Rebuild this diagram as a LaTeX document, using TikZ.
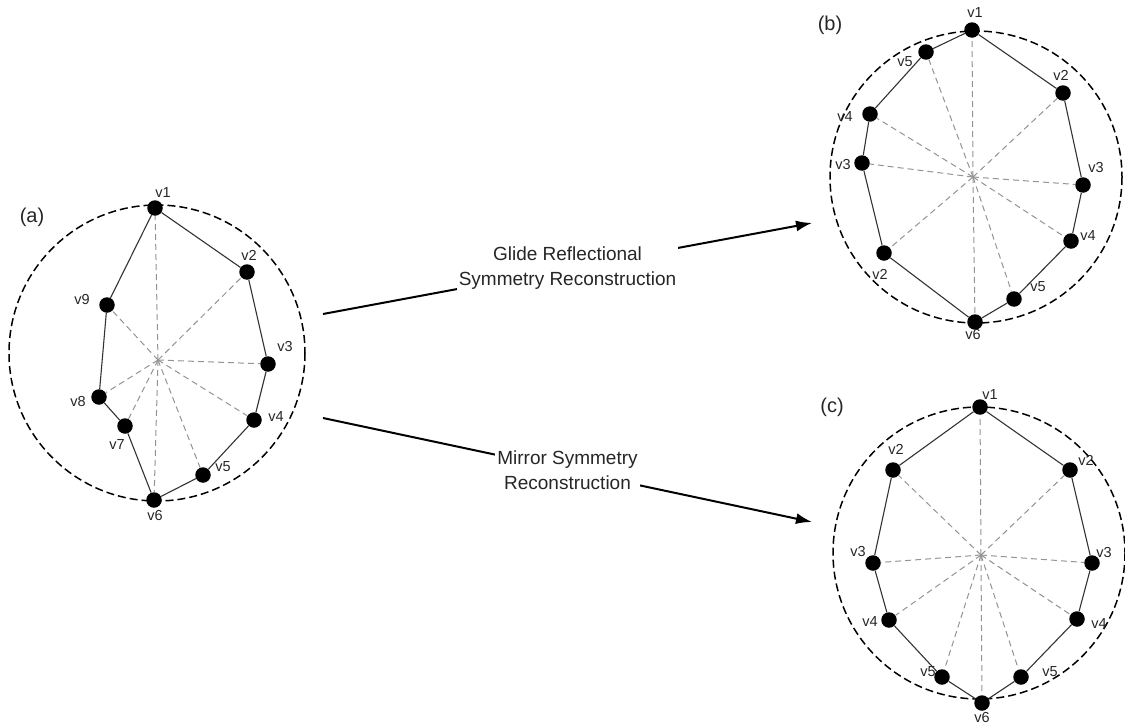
\documentclass[tikz,border=0pt]{standalone}
\usepackage{fontspec}
\setmainfont{Liberation Sans}
\usetikzlibrary{arrows.meta}

\begin{document}
\begin{tikzpicture}[x=1pt,y=-1pt]
  \tikzstyle{vert}=[circle,fill=black,inner sep=0pt,minimum size=15.5pt]
  \tikzstyle{lab}=[inner sep=0pt,text=black!85,font=\fontsize{14.5}{16}\selectfont]
  \tikzstyle{tag}=[inner sep=0pt,text=black!85,font=\fontsize{20}{24}\selectfont]
  \tikzstyle{ring}=[line width=1.5pt,dash pattern=on 8pt off 4pt]
  \tikzstyle{spoke}=[gray!85,line width=1pt,dash pattern=on 6pt off 4pt]
  \tikzstyle{side}=[black!80,line width=1.1pt]
  \tikzstyle{flow}=[line width=2pt,-{Latex[length=16pt,width=11pt]}]
  \tikzstyle{caption}=[fill=white,inner sep=2pt,align=center,text=black!85,font=\fontsize{19}{25}\selectfont]
  \useasboundingbox (0,0) rectangle (1125,728);

  % (a) input polygon
  \node[tag] (ta) at (32,217) {(a)};
  \coordinate (ah) at (158,360);
  \draw[ring] (157,353) circle (148);
  \foreach \n/\x/\y/\lx/\ly/\t in {a1/155/208/163/193/v1, a2/247/272/249/255/v2,
      a3/268/364/285/347/v3, a4/254/420/276/417/v4, a5/203/475/223/467/v5,
      a6/154/500/155/516/v6, a7/125/426/117/445/v7, a8/99/397/78/402/v8,
      a9/107/305/82/300/v9}
    {\node[vert] (\n) at (\x,\y) {};
     \node[lab] (\n t) at (\lx,\ly) {\t};}
  \foreach \i in {1,...,9} \draw[spoke] (ah) -- (a\i);
  \draw[side] (a1) -- (a2) -- (a3) -- (a4) -- (a5) -- (a6) -- (a7) -- (a8) -- (a9) -- (a1);

  % (b) glide reflection
  \node[tag] (tb) at (830,25) {(b)};
  \coordinate (bh) at (973,177);
  \draw[ring] (976,177) circle (146);
  \foreach \n/\x/\y/\lx/\ly/\t in {b1/972/30/975/13/v1, b2/1063/93/1061/75/v2,
      b3/1083/185/1096/168/v3, b4/1071/241/1088/236/v4, b5/1014/299/1038/287/v5,
      b6/975/322/973/335/v6, b7/884/253/880/274/v2, b8/862/163/843/165/v3,
      b9/870/114/845/117/v4, b10/926/52/905/62/v5}
    {\node[vert] (\n) at (\x,\y) {};
     \node[lab] (\n t) at (\lx,\ly) {\t};}
  \foreach \i in {1,...,10} \draw[spoke] (bh) -- (b\i);
  \draw[side] (b1) -- (b2) -- (b3) -- (b4) -- (b5) -- (b6) -- (b7) -- (b8) -- (b9) -- (b10) -- (b1);

  % (c) mirror
  \node[tag] (tc) at (832,407) {(c)};
  \coordinate (ch) at (981,555);
  \draw[ring] (979,553) circle (146);
  \foreach \n/\x/\y/\lx/\ly/\t in {c1/980/407/990/395/v1, c2/1070/470/1086/460/v2,
      c3/1092/563/1104/553/v3, c4/1077/619/1099/624/v4, c5/1021/677/1050/672/v5,
      c6/982/703/982/718/v6, c7/942/677/928/672/v5, c8/889/620/870/622/v4,
      c9/873/563/858/552/v3, c10/893/470/896/449/v2}
    {\node[vert] (\n) at (\x,\y) {};
     \node[lab] (\n t) at (\lx,\ly) {\t};}
  \foreach \i in {1,...,10} \draw[spoke] (ch) -- (c\i);
  \draw[side] (c1) -- (c2) -- (c3) -- (c4) -- (c5) -- (c6) -- (c7) -- (c8) -- (c9) -- (c10) -- (c1);

  % reconstructions
  \coordinate (g0) at (323,314);
  \coordinate (g1) at (812,223);
  \coordinate (m0) at (323,418);
  \coordinate (m1) at (812,522);
  \draw[flow] (g0) -- node[caption] {Glide Reflectional\\Symmetry Reconstruction} (g1);
  \draw[flow] (m0) -- node[caption] {Mirror Symmetry\\Reconstruction} (m1);
\end{tikzpicture}
\end{document}
